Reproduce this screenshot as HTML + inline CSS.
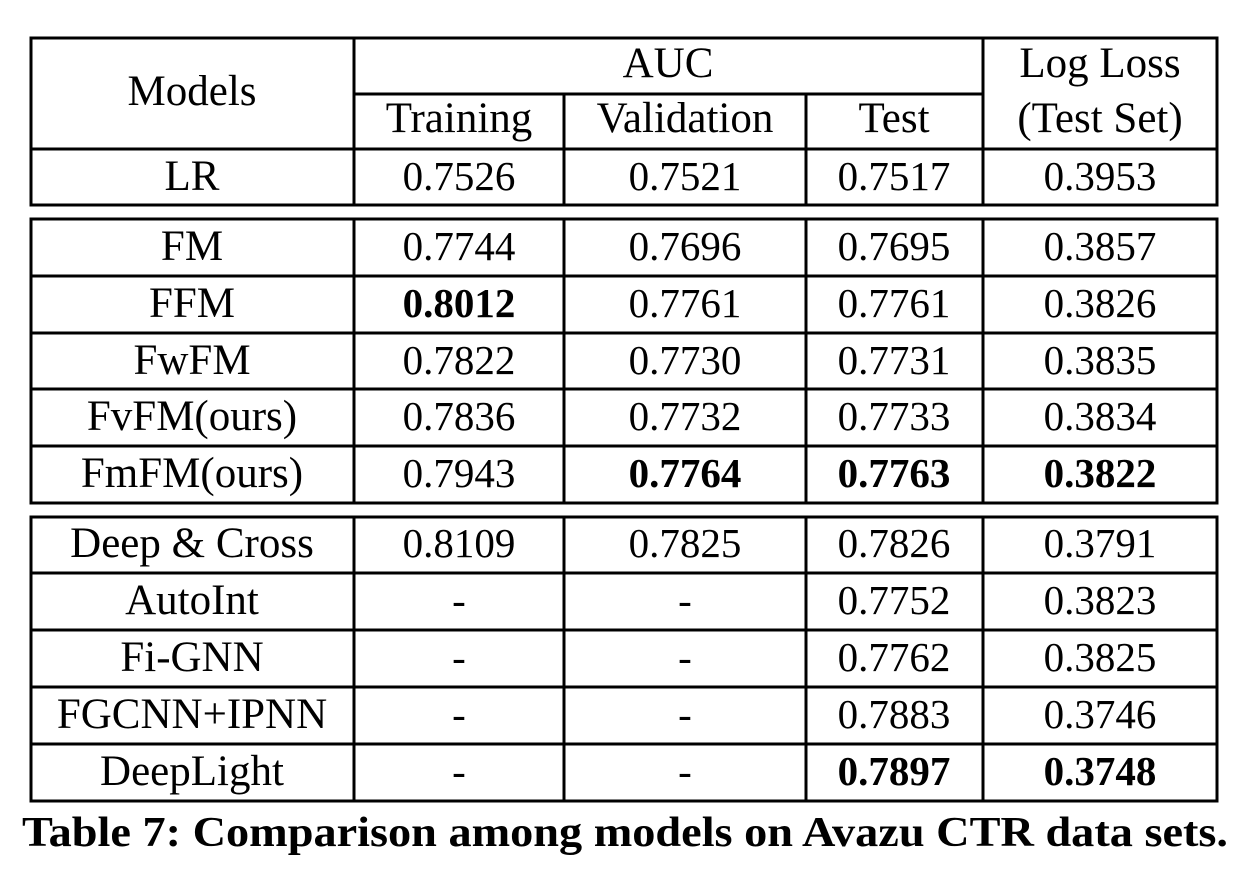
<!DOCTYPE html>
<html><head><meta charset="utf-8"><style>html,body{margin:0;padding:0;background:#fff}</style></head>
<body>
<svg width="1254" height="884" xmlns="http://www.w3.org/2000/svg" font-family="'Liberation Serif', serif" font-size="41" fill="#000">
<g stroke="#000" stroke-width="3" fill="none">
<rect x="31" y="38" width="1186" height="167"/>
<line x1="354" y1="38" x2="354" y2="205"/>
<line x1="983" y1="38" x2="983" y2="205"/>
<line x1="564" y1="94" x2="564" y2="205"/>
<line x1="806" y1="94" x2="806" y2="205"/>
<line x1="354" y1="94" x2="983" y2="94"/>
<line x1="31" y1="149" x2="1217" y2="149"/>
<rect x="31" y="219" width="1186" height="284"/>
<line x1="354" y1="219" x2="354" y2="503"/>
<line x1="564" y1="219" x2="564" y2="503"/>
<line x1="806" y1="219" x2="806" y2="503"/>
<line x1="983" y1="219" x2="983" y2="503"/>
<line x1="31" y1="276" x2="1217" y2="276"/>
<line x1="31" y1="333" x2="1217" y2="333"/>
<line x1="31" y1="389" x2="1217" y2="389"/>
<line x1="31" y1="446" x2="1217" y2="446"/>
<rect x="31" y="517" width="1186" height="284"/>
<line x1="354" y1="517" x2="354" y2="801"/>
<line x1="564" y1="517" x2="564" y2="801"/>
<line x1="806" y1="517" x2="806" y2="801"/>
<line x1="983" y1="517" x2="983" y2="801"/>
<line x1="31" y1="573" x2="1217" y2="573"/>
<line x1="31" y1="630" x2="1217" y2="630"/>
<line x1="31" y1="687" x2="1217" y2="687"/>
<line x1="31" y1="744" x2="1217" y2="744"/>
</g>
<g text-anchor="middle">
<g font-size="43">
<text x="192" y="105">Models</text>
<text x="668" y="77">AUC</text>
<text x="1100" y="77">Log Loss</text>
<text x="459" y="132">Training</text>
<text x="685" y="132">Validation</text>
<text x="894" y="132">Test</text>
<text x="1100" y="132">(Test Set)</text>
<text x="192" y="190">LR</text>
<text x="192" y="260">FM</text>
<text x="192" y="317">FFM</text>
<text x="192" y="374">FwFM</text>
<text x="192" y="430">FvFM(ours)</text>
<text x="192" y="487">FmFM(ours)</text>
<text x="192" y="557">Deep &amp; Cross</text>
<text x="192" y="614">AutoInt</text>
<text x="192" y="671">Fi-GNN</text>
<text x="192" y="728">FGCNN+IPNN</text>
<text x="192" y="785">DeepLight</text>
</g>
<text x="459" y="190">0.7526</text><text x="685" y="190">0.7521</text><text x="894" y="190">0.7517</text><text x="1100" y="190">0.3953</text>

<text x="459" y="260">0.7744</text><text x="685" y="260">0.7696</text><text x="894" y="260">0.7695</text><text x="1100" y="260">0.3857</text>
<text x="459" y="317" font-weight="bold">0.8012</text><text x="685" y="317">0.7761</text><text x="894" y="317">0.7761</text><text x="1100" y="317">0.3826</text>
<text x="459" y="374">0.7822</text><text x="685" y="374">0.7730</text><text x="894" y="374">0.7731</text><text x="1100" y="374">0.3835</text>
<text x="459" y="430">0.7836</text><text x="685" y="430">0.7732</text><text x="894" y="430">0.7733</text><text x="1100" y="430">0.3834</text>
<text x="459" y="487">0.7943</text><text x="685" y="487" font-weight="bold">0.7764</text><text x="894" y="487" font-weight="bold">0.7763</text><text x="1100" y="487" font-weight="bold">0.3822</text>

<text x="459" y="557">0.8109</text><text x="685" y="557">0.7825</text><text x="894" y="557">0.7826</text><text x="1100" y="557">0.3791</text>
<text x="459" y="614">-</text><text x="685" y="614">-</text><text x="894" y="614">0.7752</text><text x="1100" y="614">0.3823</text>
<text x="459" y="671">-</text><text x="685" y="671">-</text><text x="894" y="671">0.7762</text><text x="1100" y="671">0.3825</text>
<text x="459" y="728">-</text><text x="685" y="728">-</text><text x="894" y="728">0.7883</text><text x="1100" y="728">0.3746</text>
<text x="459" y="785">-</text><text x="685" y="785">-</text><text x="894" y="785" font-weight="bold">0.7897</text><text x="1100" y="785" font-weight="bold">0.3748</text>
</g>
<text x="22" y="846" font-size="42" font-weight="bold" textLength="1206" lengthAdjust="spacingAndGlyphs">Table 7: Comparison among models on Avazu CTR data sets.</text>
</svg>
</body></html>
